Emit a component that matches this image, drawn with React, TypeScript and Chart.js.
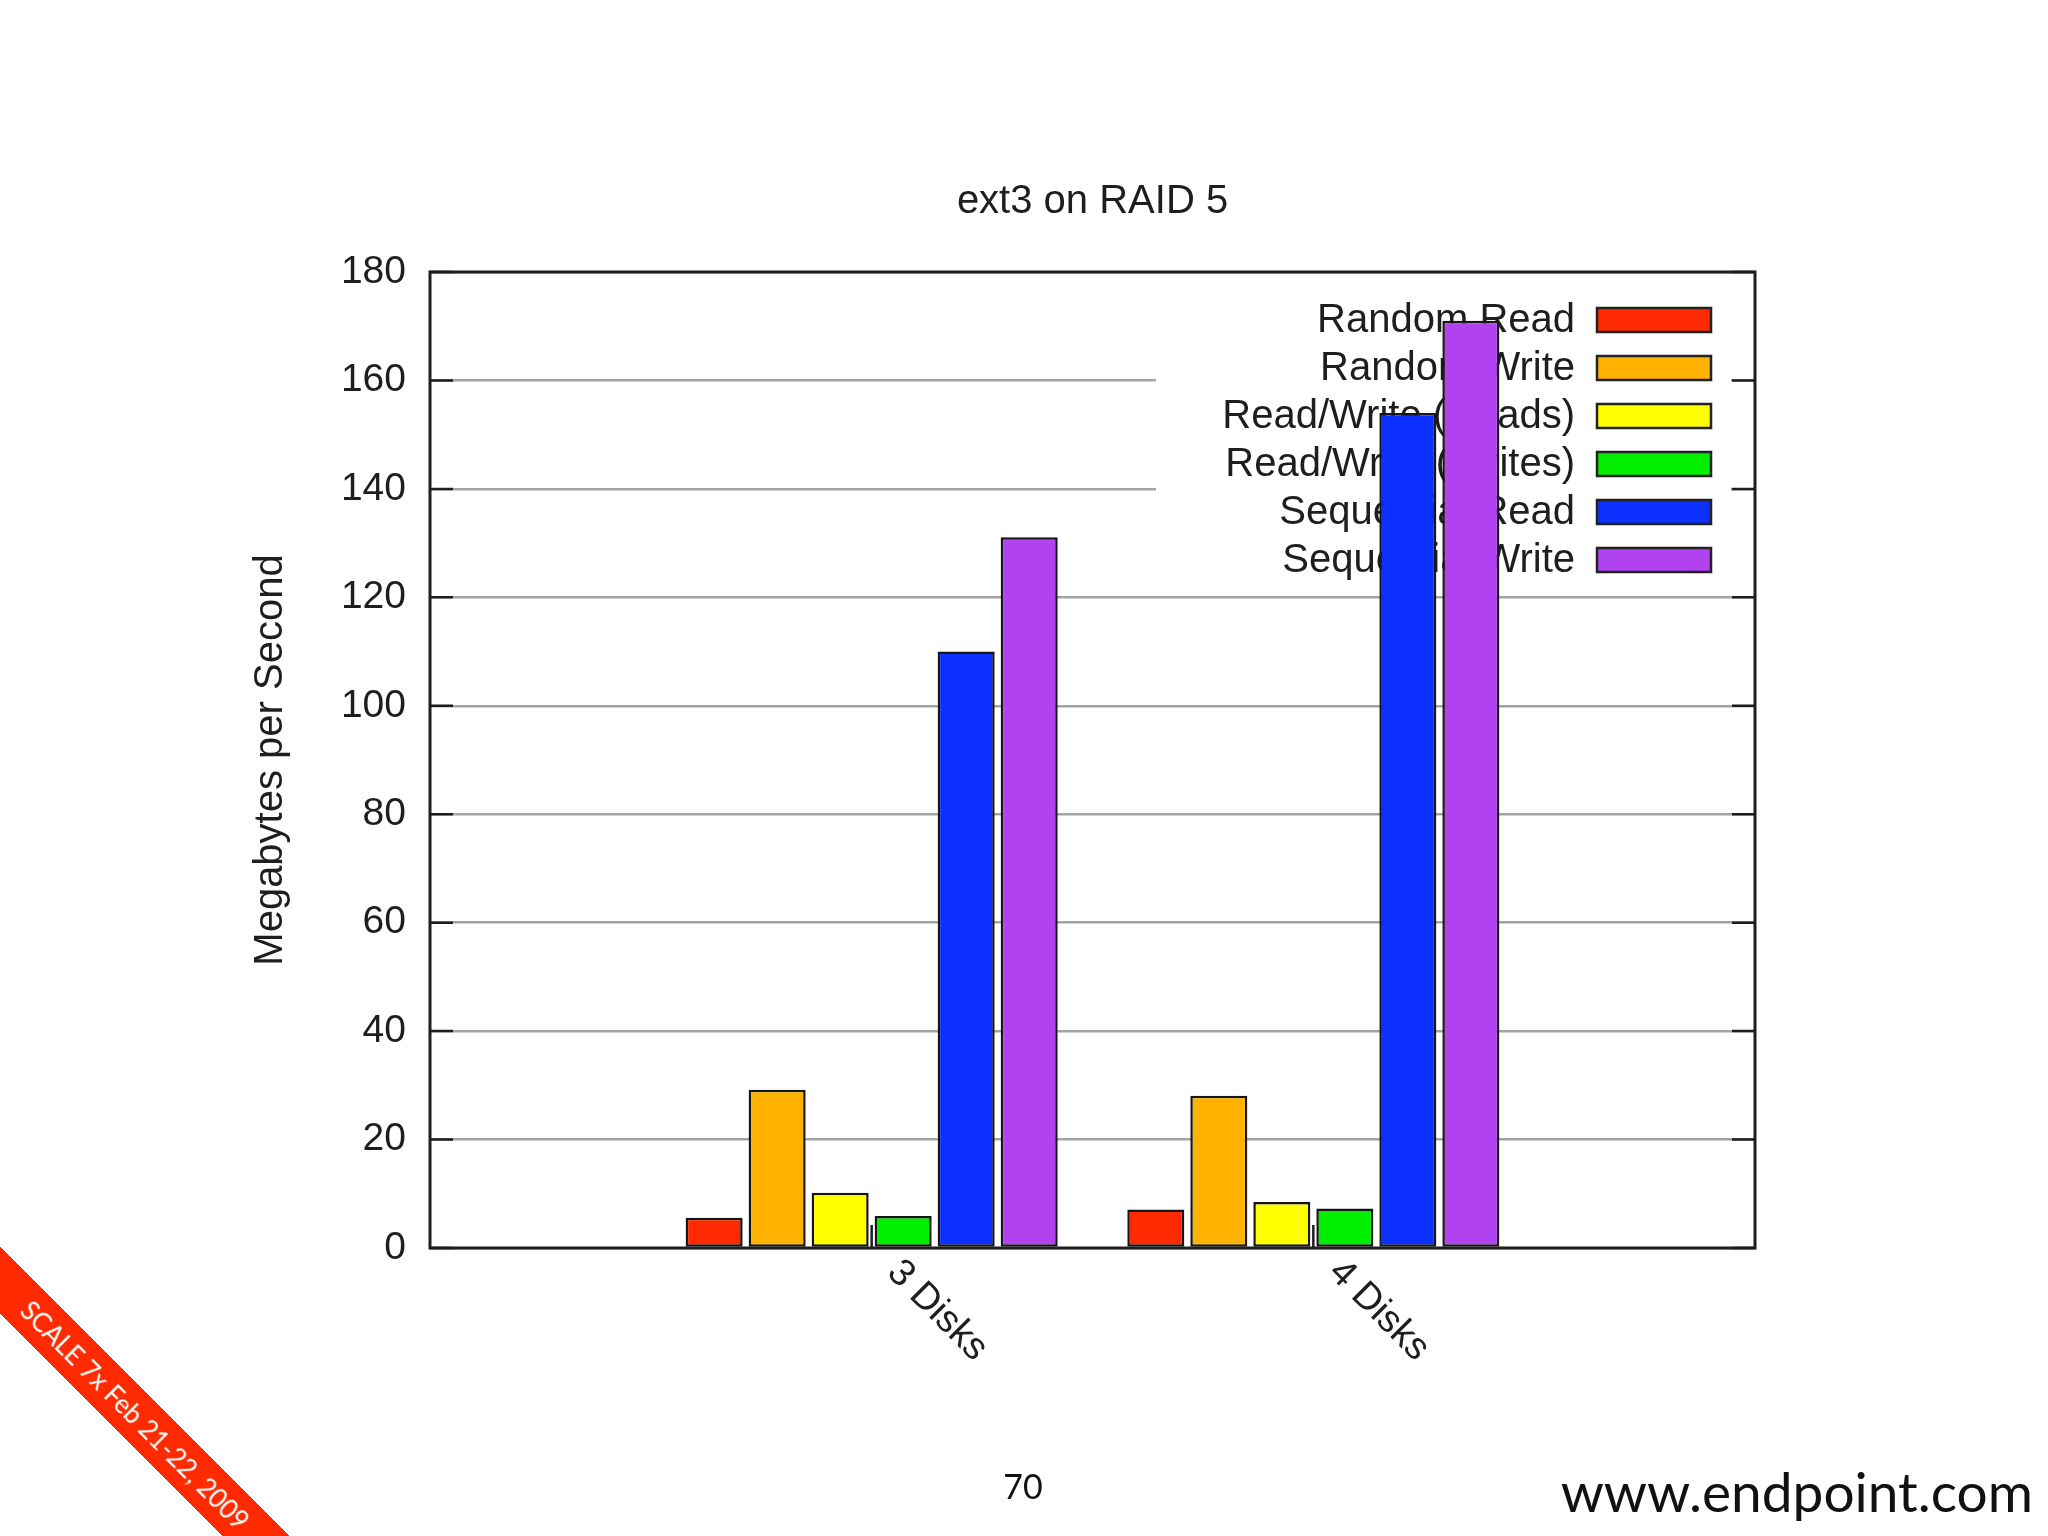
import React, { useEffect, useRef } from "react";
import { Chart, registerables } from "chart.js";

Chart.register(...registerables);

// ---- data ----
const categories = ["3 Disks", "4 Disks"];
const seriesLabels = [
  "Random Read",
  "Random Write",
  "Read/Write (Reads)",
  "Read/Write (Writes)",
  "Sequential Read",
  "Sequential Write",
];
const randomRead = [5.6, 7.1];
const randomWrite = [29.2, 28.1];
const rwReads = [10.2, 8.5];
const rwWrites = [5.9, 7.3];
const seqRead = [110.0, 154.0];
const seqWrite = [131.1, 171.0];
const seriesColors = ["#ff2a00", "#ffb300", "#ffff00", "#00ee00", "#0b30ff", "#b042ef"];
const yMin = 0;
const yMax = 180;
const yStep = 20;
const chartTitle = "ext3 on RAID 5";
const yAxisTitle = "Megabytes per Second";
const pageNumber = "70";
const siteUrl = "www.endpoint.com";
const ribbonText = "SCALE 7x Feb 21-22, 2009";

const seriesValues = [randomRead, randomWrite, rwReads, rwWrites, seqRead, seqWrite];

const FONT = "'Liberation Sans', Arial, Helvetica, sans-serif";
const INK = "#1e1e1e";

const decorPlugin = {
  id: "gnuplotDecor",
  beforeDatasetsDraw(chart: any) {
    const { ctx, chartArea: ca } = chart;
    ctx.save();
    // opaque key box (hides grid lines behind it)
    ctx.fillStyle = "#ffffff";
    ctx.fillRect(ca.right - 599, ca.top + 18, 575, 296);
    // key entries
    ctx.font = `40px ${FONT}`;
    ctx.textAlign = "right";
    ctx.textBaseline = "middle";
    chart.data.datasets.forEach((ds: any, i: number) => {
      const cy = ca.top + 48 + i * 48;
      ctx.fillStyle = INK;
      ctx.fillText(ds.label, ca.right - 180, cy + 1);
      ctx.fillStyle = ds.backgroundColor;
      ctx.fillRect(ca.right - 158, cy - 12, 114, 24);
      ctx.lineWidth = 2.5;
      ctx.strokeStyle = "#222";
      ctx.strokeRect(ca.right - 158, cy - 12, 114, 24);
    });
    ctx.restore();
  },
  afterDatasetsDraw(chart: any) {
    const { ctx, chartArea: ca, scales } = chart;
    const x = scales.x;
    const y = scales.y;
    ctx.save();
    ctx.strokeStyle = INK;
    ctx.lineWidth = 2.5;
    // y tics (both sides, inward)
    for (let v = yMin; v <= yMax; v += yStep) {
      const py = y.getPixelForValue(v);
      ctx.beginPath();
      ctx.moveTo(ca.left, py);
      ctx.lineTo(ca.left + 23, py);
      ctx.moveTo(ca.right - 23, py);
      ctx.lineTo(ca.right, py);
      ctx.stroke();
    }
    // x tics (bottom, inward)
    categories.forEach((_, i) => {
      const px = x.getPixelForValue(i);
      ctx.beginPath();
      ctx.moveTo(px, ca.bottom);
      ctx.lineTo(px, ca.bottom - 23);
      ctx.stroke();
    });
    // border
    ctx.lineWidth = 3;
    ctx.strokeRect(ca.left, ca.top, ca.right - ca.left, ca.bottom - ca.top);
    // rotated category labels
    ctx.fillStyle = INK;
    ctx.font = `38px ${FONT}`;
    ctx.textAlign = "left";
    ctx.textBaseline = "alphabetic";
    categories.forEach((label, i) => {
      const px = x.getPixelForValue(i);
      ctx.save();
      ctx.translate(px + 14, ca.bottom + 26);
      ctx.rotate(Math.PI / 4);
      ctx.fillText(label, 0, 0);
      ctx.restore();
    });
    ctx.restore();
  },
};

export default function App() {
  const canvasRef = useRef<HTMLCanvasElement | null>(null);

  useEffect(() => {
    const canvas = canvasRef.current;
    if (!canvas) return;
    const chart = new Chart(canvas, {
      type: "bar",
      data: {
        datasets: seriesValues.map((vals, i) => ({
          label: seriesLabels[i],
          data: vals.map((v, j) => ({ x: j, y: v })),
          backgroundColor: seriesColors[i],
          borderColor: "#161616",
          borderWidth: 2.5,
          borderSkipped: false,
          categoryPercentage: 0.856,
          barPercentage: 0.905,
        })),
      },
      options: {
        animation: false,
        responsive: false,
        devicePixelRatio: 1,
        layout: { padding: { left: 0, right: 2048 - 1755, top: 0, bottom: 1536 - 1248 } },
        plugins: {
          legend: { display: false },
          tooltip: { enabled: false },
          title: {
            display: true,
            text: chartTitle,
            fullSize: false,
            color: INK,
            font: { family: FONT, size: 40, weight: "normal" },
            padding: { top: 177.5, bottom: 46.5 },
          },
        },
        scales: {
          x: {
            type: "linear",
            min: -1,
            max: 2,
            display: false,
            offset: false,
            ticks: { stepSize: 1 },
          },
          y: {
            min: yMin,
            max: yMax,
            ticks: {
              stepSize: yStep,
              color: INK,
              font: { family: FONT, size: 39 },
              padding: 24,
            },
            grid: { color: "#a3a3a3", lineWidth: 2.5, drawTicks: false },
            border: { display: false },
            title: {
              display: true,
              text: yAxisTitle,
              color: INK,
              font: { family: FONT, size: 40 },
              padding: { top: 247, bottom: 0 },
            },
            afterFit: (s: any) => {
              s.width = 430;
            },
          },
        },
      } as any,
      plugins: [decorPlugin],
    });
    return () => chart.destroy();
  }, []);

  return (
    <div
      style={{
        position: "fixed",
        left: 0,
        top: 0,
        width: 2048,
        height: 1536,
        overflow: "hidden",
        background: "#ffffff",
      }}
    >
      <canvas
        ref={canvasRef}
        width={2048}
        height={1536}
        style={{ position: "absolute", left: 0, top: 0, width: 2048, height: 1536 }}
      />
      <div
        style={{
          position: "absolute",
          left: 973,
          width: 100,
          top: 1469,
          textAlign: "center",
          fontFamily: "Lato, sans-serif",
          fontSize: 34,
          lineHeight: "34px",
          color: "#111",
        }}
      >
        {pageNumber}
      </div>
      <div
        style={{
          position: "absolute",
          right: 15,
          top: 1464,
          fontFamily: "Lato, sans-serif",
          fontSize: 55,
          lineHeight: "55px",
          color: "#111",
          whiteSpace: "nowrap",
        }}
      >
        {siteUrl}
      </div>
      <div
        style={{
          position: "absolute",
          left: 135 - 350,
          top: 1415 - 24,
          width: 700,
          height: 48,
          background: "#ff2a00",
          color: "#ffffff",
          transform: "rotate(45deg)",
          display: "flex",
          alignItems: "center",
          justifyContent: "center",
          fontFamily: "Lato, sans-serif",
          fontSize: 26,
          whiteSpace: "nowrap",
        }}
      >
        {ribbonText}
      </div>
    </div>
  );
}
